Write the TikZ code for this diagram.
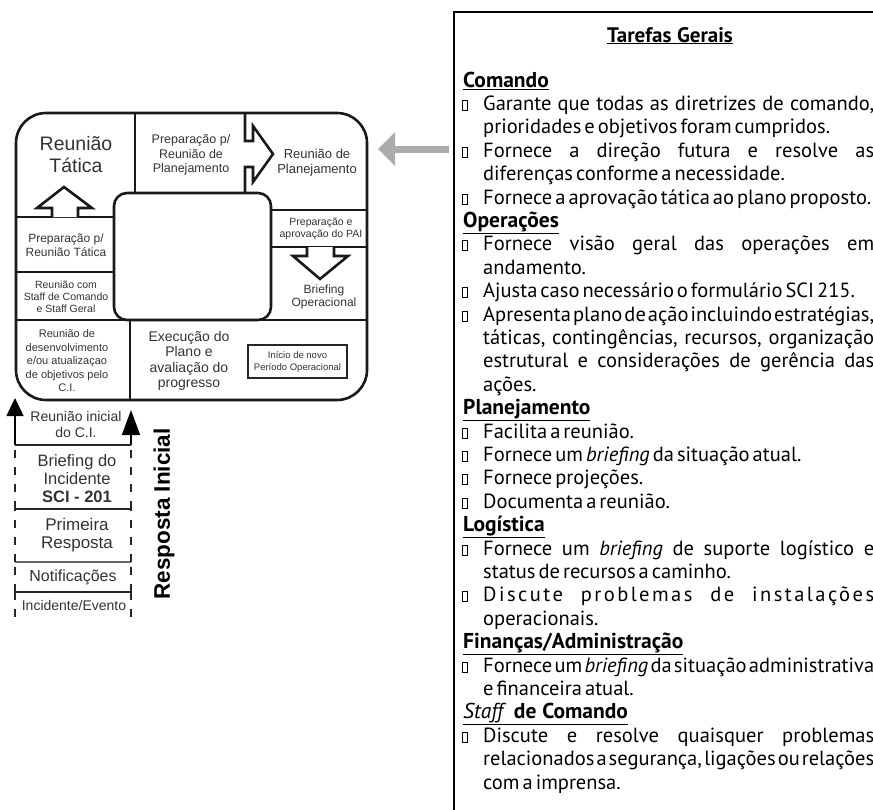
\documentclass[tikz,border=0pt]{standalone}
\usepackage{fontspec}
\setmainfont{Liberation Sans}
\newfontfamily\panelfont{PT Sans}[WordSpace=0.55]
\usetikzlibrary{arrows.meta}
\newcommand{\fsz}[2]{\fontsize{#1}{#2}\selectfont}
\newcommand{\jline}[1]{\makebox[391pt][s]{#1}}
\newcommand{\wsp}{\hspace{0.27em}}

\begin{document}
\begin{tikzpicture}[x=1pt,y=-1pt,
  frame/.style={line width=2.6pt, draw=black!90, line join=miter},
  lbl/.style={align=center, inner sep=0pt, text=black!80},
  stackline/.style={line width=1.4pt, draw=black!85},
  dashside/.style={line width=1.4pt, draw=black!85, dash pattern=on 8pt off 9pt},
  panel/.style={anchor=base west, inner sep=0pt, font=\panelfont\fsz{20.5}{23.4}},
  head/.style={anchor=base west, inner sep=0pt, font=\panelfont\bfseries\fsz{21.5}{23.4}},
  bulletbox/.style={line width=0.9pt, draw=black},
]
\useasboundingbox (0,0) rectangle (873,809);
\clip (0,0) rectangle (873,809);

% ---------- planning cycle ----------
\draw[frame, rounded corners=30pt] (16,113) rectangle (367,400);
\draw[frame] (135,113) -- (135,193);
\draw[frame, fill=white] (245,113) -- (245,141) -- (253,141) -- (253,126) -- (273,154)
  -- (253,182) -- (253,167) -- (245,167) -- (245,193);
\draw[frame] (16,217) -- (114,217);
\draw[frame, fill=white] (52,217) -- (52,208) -- (37,208) -- (64,187) -- (92,208)
  -- (78,208) -- (78,217);
\draw[frame] (16,272) -- (114,272);
\draw[frame] (16,320) -- (367,320);
\draw[frame] (130,320) -- (130,400);
\draw[frame] (271,210) -- (367,210);
\draw[frame] (271,247) -- (367,247);
\draw[frame, fill=white] (307,247) -- (307,256) -- (293,256) -- (320,279) -- (348,256)
  -- (334,256) -- (334,247);
\draw[frame, rounded corners=13pt, fill=white] (114,193) rectangle (271,320);

\node[lbl, font=\fsz{19.5}{22}] (tatica) at (76,155) {Reunião\\Tática};
\node[lbl, font=\fsz{12.5}{14.5}] (prepplan) at (191,155) {Preparação p/\\Reunião de\\Planejamento};
\node[lbl, font=\fsz{13}{15}] (planej) at (317,163) {Reunião de\\Planejamento};
\node[lbl, font=\fsz{10.5}{12.5}] (pai) at (321,229) {Preparação e\\aprovação do PAI};
\node[lbl, font=\fsz{12}{13.5}] (brief) at (324,297) {Briefing\\Operacional};
\node[lbl, font=\fsz{12}{14.5}] (preptat) at (66,245) {Preparação p/\\Reunião Tática};
\node[lbl, font=\fsz{10.5}{12}] (staff) at (66,297) {Reunião com\\Staff de Comando\\e Staff Geral};
\node[lbl, font=\fsz{11}{13.5}] (desenv) at (67,361) {Reunião de\\desenvolvimento\\e/ou atualizaçao\\de objetivos pelo\\C.I.};
\node[lbl, font=\fsz{14}{15.3}] (exec) at (189,361) {Execução do\\Plano e\\avaliação do\\progresso};
\node[lbl, draw=black!85, line width=1.5pt, minimum width=99pt, minimum height=33pt,
  font=\fsz{9.5}{12}] (novo) at (297.5,361.5) {Início de novo\\Período Operacional};

% ---------- initial response stack ----------
\coordinate (la) at (15,445);
\coordinate (ra) at (131,445);
\draw[line width=1.6pt, -{Triangle[length=18pt,width=17pt]}] (la) -- (15,398);
\draw[line width=1.6pt, -{Triangle[length=25pt,width=18pt]}] (ra) -- (131,410);
\draw[stackline] (la) -- (ra);
\draw[stackline] (15,509) -- (131,509);
\draw[stackline, draw=black!60] (15,562) -- (131,562);
\draw[stackline] (15,592) -- (131,592);
\foreach \xx in {15,131} {
  \draw[dashside] (\xx,509) -- (\xx,445);
  \draw[dashside] (\xx,562) -- (\xx,509);
  \draw[dashside] (\xx,592) -- (\xx,562);
  \draw[dashside] (\xx,592) -- (\xx,625);
}
\node[lbl, font=\fsz{14}{16}] (inicial) at (76,424) {Reunião inicial\\do C.I.};
\node[lbl, font=\fsz{16.5}{18}] (brinc) at (77,479) {Briefing do\\Incidente\\\textbf{SCI - 201}};
\node[lbl, font=\fsz{17}{18}] (primeira) at (77,535) {Primeira\\Resposta};
\node[lbl, font=\fsz{16}{18}] (notif) at (73,577) {Notificações};
\node[lbl, font=\fsz{14}{16}] (evento) at (74,605) {Incidente/Evento};
\node[lbl, rotate=90, text=black, font=\bfseries\fsz{22.5}{24}] (resp) at (164,514) {Resposta Inicial};

% ---------- general tasks panel ----------
\draw[line width=2.5pt] (454,840) -- (454,12) -- (900,12);
\fill[black!33] (449,145.5) rectangle (395,152.5);
\fill[black!33] (395,132) -- (378,149) -- (395,166) -- cycle;

\node[inner sep=0pt, anchor=base, font=\panelfont\bfseries\fsz{21}{24}] (tg) at (670,42) {\underline{Tarefas\wsp Gerais}};

\node[head] (h1) at (463,87) {\underline{Comando}};
\node[panel] (l1) at (483,{87+23.4*1}) {\jline{Garante que todas as diretrizes de comando,}};
\node[panel] (l2) at (483,{87+23.4*2}) {prioridades e objetivos foram cumpridos.};
\node[panel] (l3) at (483,{87+23.4*3}) {\jline{Fornece a direção futura e resolve as}};
\node[panel] (l4) at (483,{87+23.4*4}) {diferenças conforme a necessidade.};
\node[panel] (l5) at (483,{87+23.4*5}) {Fornece a aprovação tática ao plano proposto.};
\node[head] (h2) at (463,{87+23.4*6}) {\underline{Operações}};
\node[panel] (l7) at (483,{87+23.4*7}) {\jline{Fornece visão geral das operações em}};
\node[panel] (l8) at (483,{87+23.4*8}) {andamento.};
\node[panel] (l9) at (483,{87+23.4*9}) {Ajusta caso necessário o formulário SCI 215.};
\node[panel] (l10) at (483,{87+23.4*10}) {\jline{Apresenta plano de ação incluindo estratégias,}};
\node[panel] (l11) at (483,{87+23.4*11}) {\jline{táticas, contingências, recursos, organização}};
\node[panel] (l12) at (483,{87+23.4*12}) {\jline{estrutural e considerações de gerência das}};
\node[panel] (l13) at (483,{87+23.4*13}) {ações.};
\node[head] (h3) at (463,{87+23.4*14}) {\underline{Planejamento}};
\node[panel] (l15) at (483,{87+23.4*15}) {Facilita a reunião.};
\node[panel] (l16) at (483,{87+23.4*16}) {Fornece um \textit{briefing} da situação atual.};
\node[panel] (l17) at (483,{87+23.4*17}) {Fornece projeções.};
\node[panel] (l18) at (483,{87+23.4*18}) {Documenta a reunião.};
\node[head] (h4) at (463,{87+23.4*19}) {\underline{Logística}};
\node[panel] (l20) at (483,{87+23.4*20}) {\jline{Fornece um \textit{briefing} de suporte logístico e}};
\node[panel] (l21) at (483,{87+23.4*21}) {status de recursos a caminho.};
\node[panel] (l22) at (483,{87+23.4*22}) {\addfontfeatures{LetterSpace=12}\jline{Discute problemas de instalações}};
\node[panel] (l23) at (483,{87+23.4*23}) {operacionais.};
\node[head] (h5) at (463,{87+23.4*24}) {\underline{Finanças/Administração}};
\node[panel] (l25) at (483,{87+23.4*25}) {\jline{Fornece um \textit{briefing} da situação administrativa}};
\node[panel] (l26) at (483,{87+23.4*26}) {e financeira atual.};
\node[head] (h6) at (463,{87+23.4*27}) {\underline{{\mdseries\itshape Staff}\hspace{0.5em}de\wsp Comando}};
\node[panel] (l28) at (483,{87+23.4*28}) {\jline{Discute e resolve quaisquer problemas}};
\node[panel] (l29) at (483,{87+23.4*29}) {\jline{relacionados a segurança, ligações ou relações}};
\node[panel] (l30) at (483,{87+23.4*30}) {com a imprensa.};

\foreach \k in {1,3,5,7,9,10,15,16,17,18,20,22,25,28}
  \draw[bulletbox] (462.5,{87+23.4*\k}) rectangle ++(4.5,-10);
\end{tikzpicture}
\end{document}
